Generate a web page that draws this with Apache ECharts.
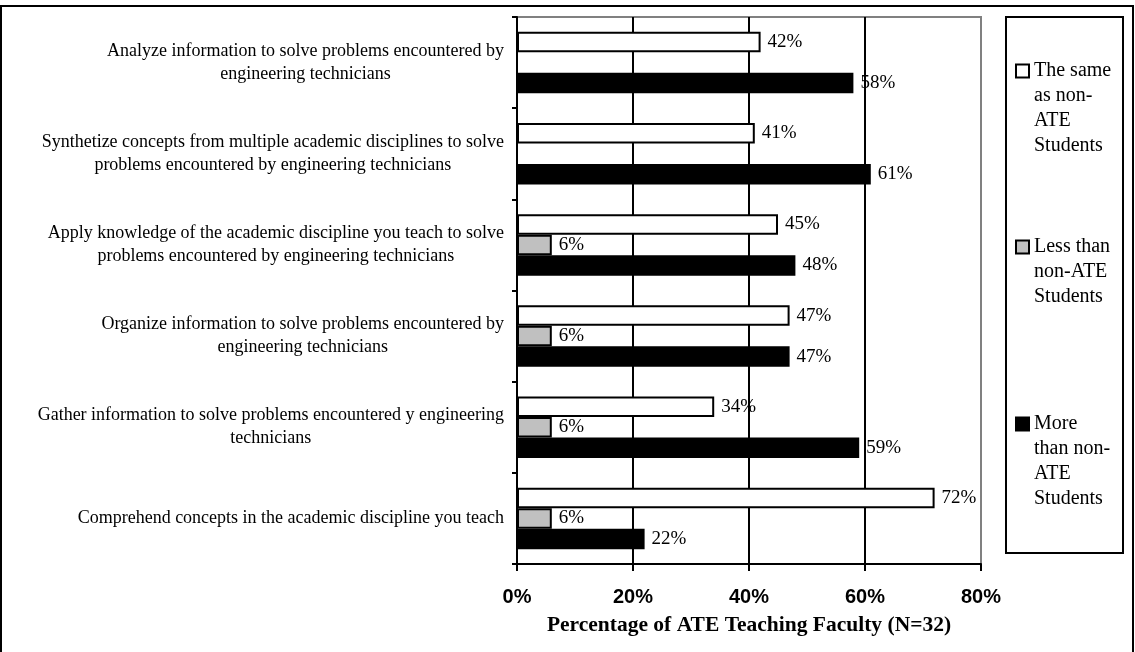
<!DOCTYPE html>
<html>
<head>
<meta charset="utf-8">
<title>ATE Teaching Faculty survey</title>
<script src="https://cdn.jsdelivr.net/npm/echarts@6/dist/echarts.min.js"></script>
<style>
  html, body { margin: 0; padding: 0; background: #fff; }
  #chart { width: 1135px; height: 652px; }
</style>
</head>
<body>
<div id="chart"></div>
<script>
// Skill categories, top to bottom (line breaks as printed)
const categories = [
  'Analyze information to solve problems encountered by\nengineering technicians',
  'Synthetize concepts from multiple academic disciplines to solve\nproblems encountered by engineering technicians',
  'Apply knowledge of the academic discipline you teach to solve\nproblems encountered by engineering technicians',
  'Organize information to solve problems encountered by\nengineering technicians',
  'Gather information to solve problems encountered y engineering\ntechnicians',
  'Comprehend concepts in the academic discipline you teach'
];

const seriesNames = [
  'The same as non-ATE Students',
  'Less than non-ATE Students',
  'More than non-ATE Students'
];

// Legend text, wrapped as printed in the key box
const legendLines = [
  ['The same', 'as non-', 'ATE', 'Students'],
  ['Less than', 'non-ATE', 'Students'],
  ['More', 'than non-', 'ATE', 'Students']
];

// Percentages of faculty (N=32)
const sameValues = [42, 41, 45, 47, 34, 72];
const lessValues = [null, null, 6, 6, 6, 6];
const moreValues = [58, 61, 48, 47, 59, 22];

const SERIF = "'Liberation Serif', 'Times New Roman', serif";
const SANS = "'Liberation Sans', Arial, sans-serif";

const fills = ['#ffffff', '#c0c0c0', '#000000'];
const seriesData = [sameValues, lessValues, moreValues];

// Key box: each entry's swatch sits beside its first text line
const LEGEND_LINE = 25;
const legendCenters = [71, 247, 424];

const chart = echarts.init(document.getElementById('chart'), null, { renderer: 'canvas' });

const valueLabel = {
  show: true,
  position: 'right',
  distance: 7,
  formatter: (p) => p.value + '%',
  fontFamily: SERIF,
  fontSize: 19,
  color: '#000'
};

chart.setOption({
  animation: false,
  backgroundColor: '#fff',
  grid: {
    left: 517, right: 154, top: 17, bottom: 88,
    show: true,
    borderColor: '#808080',
    borderWidth: 2
  },
  xAxis: {
    type: 'value',
    min: 0, max: 80, interval: 20,
    axisLine: { show: true, lineStyle: { color: '#000', width: 2 } },
    axisTick: { show: true, length: 7, lineStyle: { color: '#000', width: 2 } },
    splitLine: { show: true, showMinLine: false, showMaxLine: false, lineStyle: { color: '#000', width: 2 } },
    axisLabel: {
      formatter: '{value}%',
      fontFamily: SANS, fontWeight: 'bold', fontSize: 20, color: '#000', margin: 23
    },
    name: 'Percentage of ATE Teaching Faculty (N=32)',
    nameLocation: 'middle',
    nameGap: 50,
    nameTextStyle: { fontFamily: SERIF, fontWeight: 'bold', fontSize: 21.5, color: '#000' }
  },
  yAxis: {
    type: 'category',
    data: categories,
    inverse: true,
    axisLine: { show: true, lineStyle: { color: '#000', width: 2 } },
    axisTick: { show: true, length: 5, lineStyle: { color: '#000', width: 2 } },
    splitLine: { show: false },
    axisLabel: {
      interval: 0,
      margin: 13,
      formatter: (v) => v.split('\n').map((l) => '{c|' + l + '}').join('\n'),
      rich: {
        c: { align: 'center', fontFamily: SERIF, fontSize: 18, lineHeight: 23, color: '#000' }
      }
    }
  },
  legend: seriesNames.map((name, i) => {
    const n = legendLines[i].length;
    return {
      data: [{
        name: name,
        icon: 'rect',
        itemStyle: { color: fills[i], borderColor: '#000', borderWidth: 2 }
      }],
      orient: 'vertical',
      left: 1015,
      top: legendCenters[i] - 10,
      padding: 0,
      itemWidth: 13,
      itemHeight: 13,
      selectedMode: false,
      formatter: () => legendLines[i].map((l) => '{t|' + l + '}').join('\n'),
      textStyle: {
        fontFamily: SERIF, fontSize: 20, color: '#000',
        padding: [LEGEND_LINE * (n - 1), 0, 0, 0],
        rich: {
          t: { fontFamily: SERIF, fontSize: 20, lineHeight: LEGEND_LINE, color: '#000' }
        }
      }
    };
  }),
  series: seriesNames.map((name, i) => ({
    name: name,
    type: 'bar',
    data: seriesData[i],
    barWidth: 20.5,
    barGap: '0%',
    itemStyle: { color: fills[i], borderColor: '#000', borderWidth: 2 },
    label: valueLabel
  })),
  graphic: [
    {
      type: 'polyline',
      silent: true,
      shape: { points: [[1, 700], [1, 6], [1133, 6], [1133, 700]] },
      style: { stroke: '#000', lineWidth: 2, fill: null }
    },
    {
      type: 'rect',
      silent: true,
      shape: { x: 1006, y: 17, width: 117, height: 536 },
      style: { stroke: '#000', lineWidth: 2, fill: 'transparent' }
    }
  ]
});
</script>
</body>
</html>
